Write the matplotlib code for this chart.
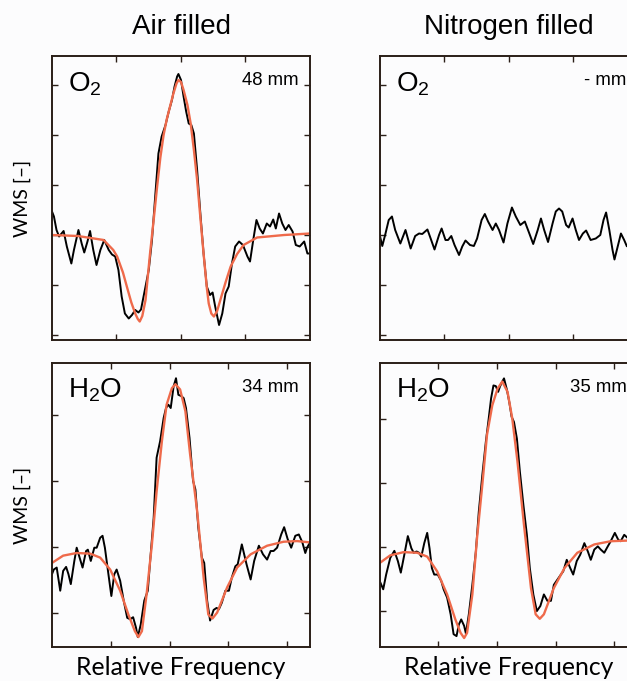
import matplotlib
matplotlib.use('Agg')
import matplotlib.pyplot as plt

plt.rcParams['font.family'] = ['Liberation Sans', 'DejaVu Sans']
plt.rcParams['mathtext.fontset'] = 'custom'
plt.rcParams['mathtext.rm'] = 'Liberation Sans'
plt.rcParams['mathtext.it'] = 'Liberation Sans:italic'

# ---------------------------------------------------------------
# data (relative frequency [a.u.], WMS signal [a.u.])

# O2, air filled
o2_air_x = [0.00, 0.03, 0.07, 0.11, 0.18, 0.23, 0.30, 0.34, 0.41, 0.46,
            0.50, 0.55, 0.59, 0.64, 0.69, 0.75, 0.81, 0.88, 0.93, 0.98,
            1.03, 1.08, 1.13, 1.19, 1.24, 1.29, 1.34, 1.38, 1.45, 1.50,
            1.55, 1.60, 1.65, 1.70, 1.76, 1.81, 1.86, 1.90, 1.94, 1.96,
            2.00, 2.04, 2.08, 2.12, 2.16, 2.20, 2.25, 2.30, 2.35, 2.40,
            2.45, 2.49, 2.53, 2.59, 2.64, 2.69, 2.74, 2.79, 2.84, 2.90,
            2.96, 3.03, 3.07, 3.12, 3.17, 3.22, 3.27, 3.33, 3.38, 3.43,
            3.47, 3.52, 3.57, 3.62, 3.67, 3.73, 3.78, 3.84, 3.91, 3.96,
            4.00]
o2_air_y = [0.47, 0.37, 0.10, -0.03, 0.08, -0.23, -0.57, -0.30, 0.10, -0.17,
            -0.35, -0.13, 0.08, -0.30, -0.60, -0.30, -0.10, -0.30, -0.39, -0.43,
            -0.70, -1.23, -1.57, -1.67, -1.60, -1.50, -1.55, -1.49, -1.03, -0.70,
            -0.10, 0.77, 1.63, 1.97, 2.20, 2.47, 2.70, 2.97, 3.17, 3.22,
            3.10, 2.77, 2.47, 2.23, 2.20, 2.03, 1.30, 0.43, -0.37, -1.03,
            -1.20, -1.15, -1.43, -1.80, -1.57, -1.17, -1.03, -0.57, -0.23, -0.13,
            -0.20, -0.43, -0.53, -0.10, 0.30, 0.13, 0.03, 0.23, 0.17, 0.31,
            0.13, 0.43, 0.23, 0.10, 0.20, 0.07, -0.20, -0.23, -0.13, -0.37,
            -0.37]
o2_air_fit_x = [0.00, 0.40, 0.80, 0.95, 1.01, 1.10, 1.16, 1.23, 1.29, 1.33,
                1.36, 1.40, 1.45, 1.52, 1.58, 1.63, 1.68, 1.73, 1.78, 1.83,
                1.88, 1.93, 1.96, 2.00, 2.04, 2.10, 2.15, 2.20, 2.25, 2.30,
                2.35, 2.40, 2.43, 2.47, 2.51, 2.56, 2.61, 2.69, 2.77, 2.87,
                2.97, 3.18, 3.60, 4.00]
o2_air_fit_y = [0.00, -0.02, -0.10, -0.30, -0.43, -0.75, -1.03, -1.35, -1.57, -1.68,
                -1.73, -1.62, -1.30, -0.37, 0.35, 0.97, 1.55, 2.00, 2.32, 2.57,
                2.82, 3.03, 3.10, 3.06, 2.90, 2.60, 2.23, 1.70, 1.10, 0.35,
                -0.37, -1.05, -1.37, -1.57, -1.63, -1.52, -1.30, -0.95, -0.63, -0.38,
                -0.20, -0.05, 0.00, 0.03]

# O2, nitrogen filled (no absorption, noise only)
o2_n2_x = [0.00, 0.04, 0.09, 0.14, 0.19, 0.24, 0.32, 0.40, 0.48, 0.55,
           0.61, 0.66, 0.74, 0.79, 0.85, 0.92, 0.96, 1.02, 1.06, 1.11,
           1.16, 1.23, 1.28, 1.33, 1.40, 1.46, 1.51, 1.58, 1.63, 1.68,
           1.75, 1.80, 1.85, 1.92, 1.98, 2.05, 2.11, 2.18, 2.25, 2.32,
           2.38, 2.45, 2.50, 2.55, 2.61, 2.68, 2.73, 2.78, 2.83, 2.89,
           2.93, 2.99, 3.04, 3.09, 3.15, 3.20, 3.27, 3.35, 3.42, 3.47,
           3.51, 3.56, 3.61, 3.64, 3.69, 3.74, 3.79, 3.83]
o2_n2_y = [0.00, -0.22, 0.03, 0.30, 0.37, 0.10, -0.17, 0.10, -0.27, -0.02,
           0.03, 0.02, 0.11, -0.07, -0.29, 0.00, 0.13, -0.10, -0.10, -0.02,
           -0.20, -0.40, -0.23, -0.11, -0.20, -0.22, -0.07, 0.30, 0.42, 0.27,
           0.10, 0.23, 0.10, -0.15, 0.23, 0.55, 0.37, 0.20, 0.27, 0.03,
           -0.18, 0.10, 0.33, 0.10, -0.14, 0.23, 0.47, 0.53, 0.47, 0.20,
           0.15, 0.33, 0.10, -0.10, 0.03, 0.09, -0.10, -0.07, 0.00, 0.30,
           0.45, 0.10, -0.30, -0.49, -0.23, 0.03, -0.10, -0.22]

# H2O, air filled
h2o_air_x = [0.00, 0.03, 0.08, 0.14, 0.19, 0.24, 0.28, 0.32, 0.38, 0.42,
             0.48, 0.52, 0.58, 0.61, 0.66, 0.72, 0.76, 0.82, 0.86, 0.90,
             0.96, 1.01, 1.06, 1.10, 1.16, 1.22, 1.28, 1.33, 1.38, 1.43,
             1.46, 1.51, 1.57, 1.63, 1.67, 1.73, 1.78, 1.84, 1.90, 1.94,
             1.98, 2.02, 2.07, 2.11, 2.15, 2.20, 2.24, 2.28, 2.34, 2.40,
             2.44, 2.49, 2.55, 2.59, 2.64, 2.69, 2.75, 2.80, 2.84, 2.89,
             2.95, 3.01, 3.06, 3.12, 3.16, 3.23, 3.31, 3.38, 3.44, 3.52,
             3.59, 3.66, 3.72, 3.77, 3.83, 3.90, 3.95, 4.01, 4.07, 4.14,
             4.20, 4.26, 4.31, 4.34, 4.39]
h2o_air_y = [-0.41, -0.34, -0.31, -0.66, -0.36, -0.30, -0.41, -0.56, -0.21, -0.01,
             -0.19, -0.31, -0.06, -0.04, -0.21, -0.01, -0.01, 0.14, 0.17, -0.01,
             -0.41, -0.74, -0.41, -0.34, -0.51, -0.81, -1.07, -1.09, -1.06, -1.22,
             -1.36, -1.17, -0.81, -0.66, -0.21, 0.44, 1.35, 1.60, 1.95, 2.10,
             2.15, 2.10, 2.43, 2.55, 2.30, 2.28, 2.25, 2.10, 1.65, 1.00,
             0.87, 0.29, -0.16, -0.24, -0.81, -1.11, -0.95, -0.92, -0.94, -0.84,
             -0.66, -0.66, -0.46, -0.29, -0.26, 0.04, -0.26, -0.49, -0.21, 0.02,
             -0.11, -0.19, -0.06, -0.06, -0.01, 0.19, 0.30, 0.12, -0.01, 0.17,
             0.19, 0.07, -0.09, -0.01, 0.07]
h2o_air_fit_x = [0.00, 0.19, 0.42, 0.65, 0.82, 0.99, 1.16, 1.30, 1.41, 1.47,
                 1.53, 1.61, 1.70, 1.78, 1.87, 1.95, 2.04, 2.10, 2.18, 2.27,
                 2.35, 2.47, 2.58, 2.66, 2.73, 2.81, 2.98, 3.15, 3.38, 3.66,
                 3.94, 4.17, 4.39]
h2o_air_fit_y = [-0.24, -0.13, -0.09, -0.10, -0.16, -0.34, -0.66, -1.02, -1.27, -1.36,
                 -1.27, -0.71, 0.04, 0.84, 1.60, 2.15, 2.40, 2.46, 2.38, 2.05,
                 1.40, 0.54, -0.46, -1.02, -1.08, -0.99, -0.61, -0.31, -0.11, 0.02,
                 0.08, 0.09, 0.07]

# H2O, nitrogen filled
h2o_n2_x = [0.00, 0.06, 0.11, 0.18, 0.25, 0.31, 0.36, 0.42, 0.48, 0.54,
            0.58, 0.63, 0.67, 0.71, 0.76, 0.81, 0.85, 0.89, 0.93, 0.99,
            1.05, 1.09, 1.15, 1.21, 1.26, 1.31, 1.35, 1.39, 1.44, 1.47,
            1.52, 1.58, 1.64, 1.69, 1.75, 1.81, 1.86, 1.90, 1.94, 1.98,
            2.02, 2.05, 2.09, 2.12, 2.17, 2.21, 2.25, 2.29, 2.34, 2.39,
            2.45, 2.51, 2.56, 2.62, 2.68, 2.74, 2.80, 2.86, 2.92, 2.97,
            3.03, 3.09, 3.13, 3.19, 3.25, 3.30, 3.36, 3.42, 3.49, 3.55,
            3.60, 3.66, 3.72, 3.77, 3.83, 3.89, 3.94, 4.01, 4.07, 4.11,
            4.17, 4.23]
h2o_n2_y = [-0.53, -0.66, -0.43, -0.17, -0.06, -0.22, -0.40, -0.12, 0.17, -0.02,
            -0.09, -0.07, -0.09, -0.15, 0.06, 0.22, -0.02, -0.33, -0.43, -0.43,
            -0.53, -0.66, -0.79, -1.05, -1.36, -1.39, -1.21, -1.13, -1.23, -1.35,
            -1.05, -0.59, -0.07, 0.55, 1.12, 1.64, 2.01, 2.32, 2.52, 2.51,
            2.42, 2.50, 2.58, 2.63, 2.45, 2.26, 2.03, 1.95, 1.69, 1.18,
            0.66, 0.19, -0.33, -0.74, -1.00, -0.92, -0.74, -0.84, -0.84, -0.59,
            -0.51, -0.43, -0.38, -0.20, -0.33, -0.43, -0.22, -0.12, 0.06, -0.07,
            -0.20, -0.04, 0.01, -0.04, -0.09, 0.01, 0.09, 0.22, 0.11, 0.09,
            0.19, 0.14]
h2o_n2_fit_x = [0.00, 0.18, 0.41, 0.64, 0.81, 0.98, 1.15, 1.29, 1.38, 1.44,
                1.49, 1.58, 1.66, 1.75, 1.83, 1.92, 2.01, 2.09, 2.18, 2.26,
                2.35, 2.46, 2.58, 2.66, 2.73, 2.80, 2.97, 3.15, 3.37, 3.66,
                3.94, 4.23, 4.40]
h2o_n2_fit_y = [-0.25, -0.13, -0.08, -0.09, -0.15, -0.38, -0.74, -1.13, -1.34, -1.42,
                -1.34, -0.74, 0.14, 0.97, 1.75, 2.21, 2.47, 2.58, 2.42, 2.01,
                1.33, 0.35, -0.64, -1.05, -1.12, -1.05, -0.64, -0.33, -0.09, 0.04,
                0.09, 0.10, 0.10]

column_titles = ['Air filled', 'Nitrogen filled']
species = [r'$\mathrm{O_2}$', r'$\mathrm{O_2}$', r'$\mathrm{H_2O}$', r'$\mathrm{H_2O}$']
path_lengths = ['48 mm', '- mm', '34 mm', '35 mm']

# ---------------------------------------------------------------

BG = '#fcfcfd'
SPINE = '#2a1e17'
FIT = '#ef6a4b'


def style_axes(ax, xlim, ylim, xticks, yticks):
    ax.set_facecolor(BG)
    ax.set_xlim(*xlim)
    ax.set_ylim(*ylim)
    ax.set_xticks(xticks)
    ax.set_yticks(yticks)
    ax.tick_params(direction='in', length=4, width=1.0, color=SPINE,
                   top=True, right=True, labelbottom=False, labelleft=False)
    for s in ax.spines.values():
        s.set_linewidth(1.4)
        s.set_color(SPINE)


fig = plt.figure(figsize=(6.27, 6.81), dpi=100)
fig.patch.set_facecolor(BG)

W, H = 627.0, 681.0
ax_w = 258 / W
top_b, top_h = (H - 340) / H, 284 / H
bot_b, bot_h = (H - 647) / H, 284 / H
left_l, right_l = 52 / W, 379.7 / W

ax_tl = fig.add_axes([left_l, top_b, ax_w, top_h])
ax_tr = fig.add_axes([right_l, top_b, ax_w, top_h])
ax_bl = fig.add_axes([left_l, bot_b, ax_w, bot_h])
ax_br = fig.add_axes([right_l, bot_b, ax_w, bot_h])

style_axes(ax_tl, (0, 4), (-2.1, 3.58), [1, 2, 3], [-2, -1, 0, 1, 2, 3])
style_axes(ax_tr, (0, 4), (-2.1, 3.58), [1, 2, 3], [-2, -1, 0, 1, 2, 3])
style_axes(ax_bl, (0, 4.39), (-1.51, 2.78), [1, 2, 3, 4], [-1, 0, 1, 2])
style_axes(ax_br, (0, 4.40), (-1.56, 2.87), [1, 2, 3, 4], [-1, 0, 1, 2])

lw = 1.4
ax_tl.plot(o2_air_x, o2_air_y, color='black', lw=lw)
ax_tl.plot(o2_air_fit_x, o2_air_fit_y, color=FIT, lw=1.7)
ax_tr.plot(o2_n2_x, o2_n2_y, color='black', lw=lw)
ax_bl.plot(h2o_air_x, h2o_air_y, color='black', lw=lw)
ax_bl.plot(h2o_air_fit_x, h2o_air_fit_y, color=FIT, lw=1.7)
ax_br.plot(h2o_n2_x, h2o_n2_y, color='black', lw=lw)
ax_br.plot(h2o_n2_fit_x, h2o_n2_fit_y, color=FIT, lw=1.7)

for ax, sp, pl in zip([ax_tl, ax_tr, ax_bl, ax_br], species, path_lengths):
    ax.text(16 / 258, 1 - 14 / 284, sp, transform=ax.transAxes,
            ha='left', va='top', fontsize=20)
    ax.text(1 - 11 / 258, 1 - 16 / 284, pl, transform=ax.transAxes,
            ha='right', va='top', fontsize=13.4)

# column titles
fig.text(181 / W, 1 - 27 / H, column_titles[0], ha='center', va='center', fontsize=20)
fig.text(509 / W, 1 - 27 / H, column_titles[1], ha='center', va='center', fontsize=20)

# axis labels
for yc in [198, 505]:
    fig.text(22 / W, 1 - yc / H, 'WMS [\u2013]', rotation=90, ha='center', va='center',
             fontsize=14, family=['Lato', 'DejaVu Sans'])
for xc in [181, 509]:
    fig.text(xc / W, 1 - 675 / H, 'Relative Frequency', ha='center', va='baseline',
             fontsize=17.8, family=['Lato', 'DejaVu Sans'])

fig.savefig('out.png', dpi=100, facecolor=BG)
